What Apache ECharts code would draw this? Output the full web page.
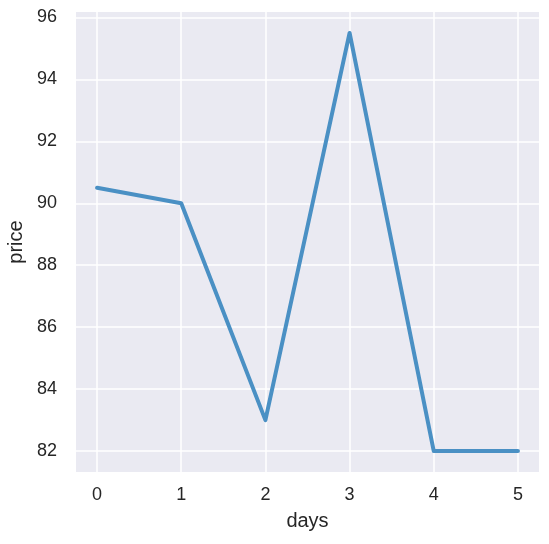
<!DOCTYPE html>
<html>
<head>
<meta charset="utf-8">
<script src="https://cdn.jsdelivr.net/npm/echarts@6/dist/echarts.min.js"></script>
<style>html,body{margin:0;padding:0;background:#fff}#c{width:549px;height:544px}</style>
</head>
<body>
<div id="c"></div>
<script>
const days = [0, 1, 2, 3, 4, 5];
const price = [90.5, 90, 83, 95.5, 82, 82];
const xTicks = [0, 1, 2, 3, 4, 5];
const yTicks = [82, 84, 86, 88, 90, 92, 94, 96];

const chart = echarts.init(document.getElementById('c'), null, {renderer: 'canvas'});
const font = 'Liberation Sans, Arial, sans-serif';
chart.setOption({
  animation: false,
  backgroundColor: '#ffffff',
  grid: {left: 76, right: 10, top: 12, bottom: 72, show: true, backgroundColor: '#eaeaf2', borderWidth: 0,
         containLabel: false, outerBoundsMode: 'none'},
  xAxis: {
    type: 'value', min: -0.25, max: 5.25,
    name: 'days', nameLocation: 'middle', nameGap: 39,
    nameTextStyle: {fontSize: 20, color: '#262626', fontFamily: font},
    axisLine: {show: false},
    axisTick: {show: false, customValues: xTicks},
    axisLabel: {customValues: xTicks, fontSize: 18, color: '#262626', fontFamily: font, margin: 14},
    splitLine: {show: true, lineStyle: {color: '#ffffff', width: 1.5}}
  },
  yAxis: {
    type: 'value', min: 81.325, max: 96.175,
    name: 'price', nameLocation: 'middle', nameGap: 47,
    nameTextStyle: {fontSize: 20, color: '#262626', fontFamily: font},
    axisLine: {show: false},
    axisTick: {show: false, customValues: yTicks},
    axisLabel: {customValues: yTicks, fontSize: 18, color: '#262626', fontFamily: font, margin: 19},
    splitLine: {show: true, lineStyle: {color: '#ffffff', width: 1.5}}
  },
  series: [{
    type: 'line',
    data: days.map((d, i) => [d, price[i]]),
    showSymbol: false,
    lineStyle: {color: '#4a90c4', width: 4, cap: 'round', join: 'round'},
    itemStyle: {color: '#4a90c4'}
  }]
});
</script>
</body>
</html>
